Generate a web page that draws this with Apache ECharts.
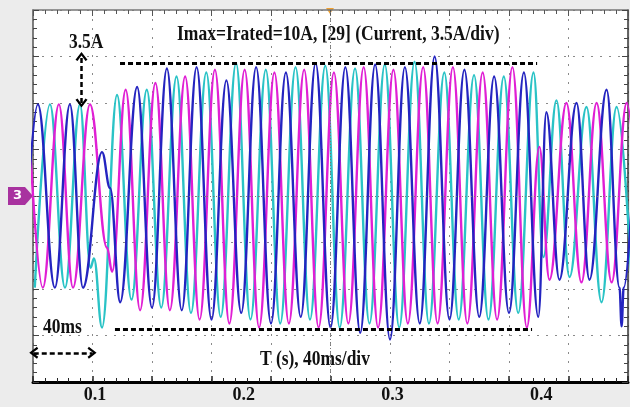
<!DOCTYPE html>
<html>
<head>
<meta charset="utf-8">
<script src="https://cdn.jsdelivr.net/npm/echarts@6/dist/echarts.min.js"></script>
<style>
html, body { margin: 0; padding: 0; background: #ececec; }
#chart { width: 630px; height: 407px; }
</style>
</head>
<body>
<div id="chart"></div>
<script>
// time in ms, current in A  (scope: 40 ms/div, 3.5 A/div)
// extrema, one array per phase
const phaseA = [ // blue
  [51.5, -6.9], [61.6, 6.9], [73.0, -6.9], [83.1, 6.9], [91.9, -6.9], [104.7, 3.3], [110.1, 0.6], [116.9, -8.0],
  [128.3, 8.2], [138.3, -8.4], [148.3, 9.6], [158.3, -8.6], [168.3, 9.7], [178.3, -9.3], [188.3, 8.7], [198.3, -8.8],
  [208.3, 9.7], [218.3, -9.6], [228.3, 9.3], [238.3, -9.1], [248.3, 10.0], [258.3, -9.9], [268.3, 9.7], [278.3, -10.3],
  [288.3, 9.9], [298.3, -10.8], [308.3, 9.7], [318.3, -9.6], [328.3, 10.5], [338.3, -9.3], [348.3, 9.5], [358.3, -9.1],
  [368.3, 9.0], [378.3, -8.8], [388.3, 9.3], [398.0, -9.1],
  [403.4, 6.3], [412.2, -6.3], [423.7, 7.0], [432.4, -6.3], [443.9, 8.0], [452.6, -6.9], [454.0, -9.8], [455.4, -6.9], [464.1, 7.0]
]
const phaseB = [ // cyan
  [59.5, -6.9], [69.7, 6.9], [79.8, -6.9], [89.9, 6.9], [97.0, -5.4], [99.3, -4.7], [104.7, -9.9], [114.8, 7.6],
  [124.5, -7.8], [134.8, 8.0], [144.5, -8.4], [154.8, 9.0], [164.5, -8.8], [174.8, 9.3], [184.5, -9.1], [194.8, 10.0],
  [204.5, -9.3], [214.8, 9.5], [224.5, -9.6], [234.8, 9.7], [244.5, -9.3], [254.8, 9.8], [264.5, -9.9], [274.8, 9.6],
  [284.5, -9.6], [294.8, 9.9], [304.5, -9.9], [314.8, 10.1], [324.5, -9.6], [334.8, 9.3], [344.5, -9.3], [354.8, 9.1],
  [364.5, -9.3], [374.8, 9.0], [384.5, -8.8], [394.8, 9.3],
  [401.4, -4.6], [410.2, 7.2], [419.0, -6.1], [430.4, 6.7], [440.5, -8.0], [450.6, 6.7], [460.7, -6.3]
]
const phaseC = [ // magenta
  [54.8, 6.9], [64.9, -6.9], [75.7, 6.9], [85.2, -6.9], [96.6, 6.9], [108.1, -3.9], [111.5, -5.7],
  [120.6, 8.0], [130.3, -8.6], [140.6, 8.5], [150.3, -8.6], [160.6, 9.0], [170.3, -9.3], [180.6, 9.5], [190.3, -9.6],
  [200.6, 9.5], [210.3, -9.9], [220.6, 9.3], [230.3, -9.6], [240.6, 9.5], [250.3, -9.9], [260.6, 9.3], [270.3, -9.6],
  [280.6, 9.7], [290.3, -9.9], [300.6, 9.5], [310.3, -9.6], [320.6, 9.7], [330.3, -9.6], [340.6, 9.7], [350.3, -9.6],
  [360.6, 9.3], [370.3, -9.3], [380.6, 9.7], [390.3, -9.9],
  [398.7, 3.7], [405.5, -6.3], [416.9, 7.0], [427.0, -6.5], [437.2, 7.0], [447.3, -6.5], [457.4, 7.0], [467.5, -6.5]
]
const xTickValues = [100, 200, 300, 400]
const timeWindow = [58.3, 458.3]   // 10 div x 40 ms
const currentWindow = [-14, 14]    // 8 div x 3.5 A
const ratedStart = [116.8, 113.4]  // start of the +/-10 A guide lines
const ratedEnd = [397.2, 393.8]
const ratedLevel = 10

const serif = '"Liberation Serif", "Times New Roman", serif'
const chevron = 'path://M0,9 L6,0 L12,9 L10,10.5 L6,4 L2,10.5 Z'
const dashed = { color: '#000', width: 3, type: [5, 3] }
const gridDots = { show: true, lineStyle: { color: '#8a8a8a', width: 1, type: [2, 7] } }
const centreDots = { color: '#777', width: 1, type: [1, 2] }

const wave = (name, data, color) => ({
  name, type: 'line', data, xAxisIndex: 0, yAxisIndex: 0,
  smooth: 0.4, smoothMonotone: 'x', showSymbol: false, clip: true,
  lineStyle: { color, width: 2.4 }, silent: true, animation: false
})

const chart = echarts.init(document.getElementById('chart'))
chart.setOption({
  animation: false,
  grid: { left: 33, right: 2, top: 10, bottom: 25, show: true, backgroundColor: '#fff', borderWidth: 0 },
  xAxis: [
    {
      type: 'value', min: timeWindow[0], max: timeWindow[1], position: 'bottom',
      axisLine: { show: true, onZero: false, lineStyle: { color: '#000', width: 3 } },
      axisTick: { show: false }, splitLine: { show: false },
      axisLabel: {
        customValues: xTickValues, formatter: (v) => (v / 1000).toFixed(1), margin: 4,
        color: '#111', fontFamily: serif, fontWeight: 'bold', fontSize: 18
      }
    },
    {
      type: 'value', min: 0, max: 10, interval: 1, position: 'bottom',
      axisLine: { show: false, onZero: false }, axisLabel: { show: false },
      axisTick: { show: true, inside: true, length: 6, lineStyle: { color: '#222', width: 1.5 } },
      minorTick: { show: true, splitNumber: 5, length: 4, lineStyle: { color: '#222' } },
      splitLine: gridDots
    },
    {
      type: 'value', min: 0, max: 10, interval: 1, position: 'top',
      axisLine: { show: true, onZero: false, lineStyle: { color: '#777', width: 1.5 } }, axisLabel: { show: false },
      axisTick: { show: true, inside: true, length: 6, lineStyle: { color: '#555' } },
      minorTick: { show: true, splitNumber: 5, length: 4, lineStyle: { color: '#555' } },
      splitLine: { show: false }
    }
  ],
  yAxis: [
    {
      type: 'value', min: currentWindow[0], max: currentWindow[1], interval: 3.5, position: 'left',
      axisLine: { show: true, onZero: false, lineStyle: { color: '#555', width: 1.5 } }, axisLabel: { show: false },
      axisTick: { show: true, inside: true, length: 6, lineStyle: { color: '#444' } },
      minorTick: { show: true, splitNumber: 5, length: 4, lineStyle: { color: '#444' } },
      splitLine: gridDots
    },
    {
      type: 'value', min: currentWindow[0], max: currentWindow[1], interval: 3.5, position: 'right',
      axisLine: { show: true, onZero: false, lineStyle: { color: '#333', width: 1.5 } }, axisLabel: { show: false },
      axisTick: { show: true, inside: true, length: 6, lineStyle: { color: '#444' } },
      minorTick: { show: true, splitNumber: 5, length: 4, lineStyle: { color: '#444' } },
      splitLine: { show: false }
    }
  ],
  series: [
    wave('phase b', phaseB, '#2ac3c6'),
    wave('phase c', phaseC, '#e01fd4'),
    wave('phase a', phaseA, '#2424c0'),
    {
      name: 'annotations', type: 'line', data: [], xAxisIndex: 0, yAxisIndex: 0, silent: true, z: 1,
      markLine: {
        silent: true, animation: false, label: { show: false },
        data: [
          // scope centre lines
          [{ coord: [258.3, currentWindow[0]], symbol: 'none', lineStyle: centreDots },
           { coord: [258.3, currentWindow[1]], symbol: 'none' }],
          [{ coord: [timeWindow[0], 0], symbol: 'none', lineStyle: centreDots },
           { coord: [timeWindow[1], 0], symbol: 'none' }]
        ]
      }
    },
    {
      name: 'guides', type: 'line', data: [], xAxisIndex: 0, yAxisIndex: 0, silent: true, z: 5,
      markLine: {
        silent: true, animation: false, label: { show: false },
        data: [
          // rated current guide lines
          [{ coord: [ratedStart[0], ratedLevel], symbol: 'none', lineStyle: dashed },
           { coord: [ratedEnd[0], ratedLevel], symbol: 'none' }],
          [{ coord: [ratedStart[1], -ratedLevel], symbol: 'none', lineStyle: dashed },
           { coord: [ratedEnd[1], -ratedLevel], symbol: 'none' }],
          // 3.5 A arrow
          [{ coord: [90.9, 7.0], symbol: chevron, symbolSize: [12, 9], lineStyle: { color: '#000', width: 2.5, type: [5, 3] } },
           { coord: [90.9, 10.5], symbol: chevron, symbolSize: [12, 9] }],
          // 40 ms arrow
          [{ coord: [58.8, -11.8], symbol: chevron, symbolSize: [12, 9], lineStyle: { color: '#000', width: 2.5, type: [5, 3] } },
           { coord: [98.0, -11.8], symbol: chevron, symbolSize: [12, 9] }]
        ]
      }
    }
  ],
  graphic: [
    { type: 'rect', shape: { x: 0, y: 0, width: 630, height: 9 }, style: { fill: '#ececec' } },
    { type: 'polygon', shape: { points: [[326, 8], [334, 8], [330, 14]] }, style: { fill: '#f0a030' } },
    { type: 'polygon', shape: { points: [[8, 187], [25, 187], [33, 196], [25, 205], [8, 205]] }, style: { fill: '#a8329f' } },
    { type: 'text', x: 13, y: 196, style: { text: '3', font: 'bold 13px "DejaVu Sans"', fill: '#fff', verticalAlign: 'middle' } },
    { type: 'text', x: 177, y: 35, scaleX: 0.835, style: { text: 'Imax=Irated=10A, [29] (Current, 3.5A/div)', font: 'bold 21px ' + serif, fill: '#111', verticalAlign: 'middle' } },
    { type: 'text', x: 69, y: 43, scaleX: 0.83, style: { text: '3.5A', font: 'bold 21px ' + serif, fill: '#111', verticalAlign: 'middle' } },
    { type: 'text', x: 43, y: 328, scaleX: 0.83, style: { text: '40ms', font: 'bold 21px ' + serif, fill: '#111', verticalAlign: 'middle' } },
    { type: 'text', x: 260, y: 360, scaleX: 0.83, style: { text: 'T (s), 40ms/div', font: 'bold 21px ' + serif, fill: '#111', verticalAlign: 'middle' } }
  ]
})
</script>
</body>
</html>
